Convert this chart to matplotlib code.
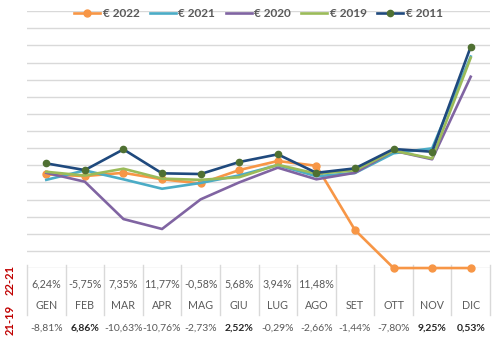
import matplotlib
matplotlib.use('Agg')
import matplotlib.pyplot as plt
from matplotlib.transforms import blended_transform_factory

plt.rcParams['font.family'] = ['Lato', 'DejaVu Sans']

# ---- dati ----
mesi = ['GEN', 'FEB', 'MAR', 'APR', 'MAG', 'GIU', 'LUG', 'AGO', 'SET', 'OTT', 'NOV', 'DIC']
v2022 = [5.47, 5.37, 5.56, 5.18, 4.94, 5.72, 6.25, 5.97, 2.22, 0, 0, 0]
v2021 = [5.15, 5.70, 5.18, 4.63, 4.97, 5.41, 6.01, 5.36, 5.55, 6.70, 6.99, 12.35]
v2020 = [5.56, 5.04, 2.86, 2.28, 4.01, 5.00, 5.86, 5.18, 5.56, 6.85, 6.35, 11.17]
v2019 = [5.62, 5.40, 5.80, 5.22, 5.15, 5.30, 6.03, 5.51, 5.70, 6.85, 6.40, 12.28]
v2011 = [6.11, 5.72, 6.93, 5.53, 5.49, 6.19, 6.64, 5.56, 5.82, 6.95, 6.79, 12.92]
diff_22_21 = ['6,24%', '-5,75%', '7,35%', '11,77%', '-0,58%', '5,68%', '3,94%', '11,48%', '', '', '', '']
diff_21_19 = ['-8,81%', '6,86%', '-10,63%', '-10,76%', '-2,73%', '2,52%', '-0,29%', '-2,66%', '-1,44%', '-7,80%', '9,25%', '0,53%']
bold_21_19 = [False, True, False, False, False, True, False, False, False, False, True, True]

x = list(range(len(mesi)))

fig = plt.figure(figsize=(5, 3.38), dpi=100)
ax = fig.add_axes([0.054, 0.207, 0.926, 0.760])

lw = 1.9
ax.plot(x, v2022, color='#F79646', lw=lw, marker='o', ms=5, label='€ 2022', clip_on=False, zorder=3)
ax.plot(x, v2021, color='#4BACC6', lw=lw, label='€ 2021', zorder=3)
ax.plot(x, v2020, color='#8064A2', lw=lw, label='€ 2020', zorder=3)
ax.plot(x, v2019, color='#9BBB59', lw=lw, label='€ 2019', zorder=3)
ax.plot(x, v2011, color='#1F497D', lw=lw, marker='o', ms=4.5, mfc='#4F7032', mec='#4F7032',
        label='€ 2011', zorder=4)

ax.set_xlim(-0.5, 11.5)
ax.set_ylim(0, 15)
ax.set_yticks(range(0, 16))
ax.set_xticks([])
ax.tick_params(left=False, labelleft=False)
ax.grid(axis='y', color='#d9d9d9', lw=1)
ax.set_axisbelow(True)
for s in ax.spines.values():
    s.set_visible(False)

leg = ax.legend(loc='center', bbox_to_anchor=(0.5, 0.99), ncol=5, frameon=False,
                handlelength=2.2, columnspacing=0.9, handletextpad=0.2,
                prop={'size': 8.5, 'weight': 'bold'})
for t in leg.get_texts():
    t.set_color('#595959')

# ---- tabella sotto il grafico ----
tr = blended_transform_factory(ax.transData, fig.transFigure)
for k in range(13):
    ax.plot([k - 0.5, k - 0.5], [0.216, 0.068], color='#d9d9d9', lw=1, transform=tr, clip_on=False)
for i in x:
    ax.text(i, 0.160, diff_22_21[i], transform=tr, ha='center', va='center', fontsize=7.7, color='#595959')
    ax.text(i, 0.095, mesi[i], transform=tr, ha='center', va='center', fontsize=7.7, color='#595959')
    ax.text(i, 0.030, diff_21_19[i], transform=tr, ha='center', va='center', fontsize=7.5,
            color='#262626' if bold_21_19[i] else '#595959',
            weight='bold' if bold_21_19[i] else 'normal')

fig.text(0.02, 0.172, '22-21', rotation=90, ha='center', va='center', color='#C00000',
         fontsize=8, weight='bold')
fig.text(0.02, 0.053, '21-19', rotation=90, ha='center', va='center', color='#C00000',
         fontsize=8, weight='bold')

fig.savefig('out.png', dpi=100)
